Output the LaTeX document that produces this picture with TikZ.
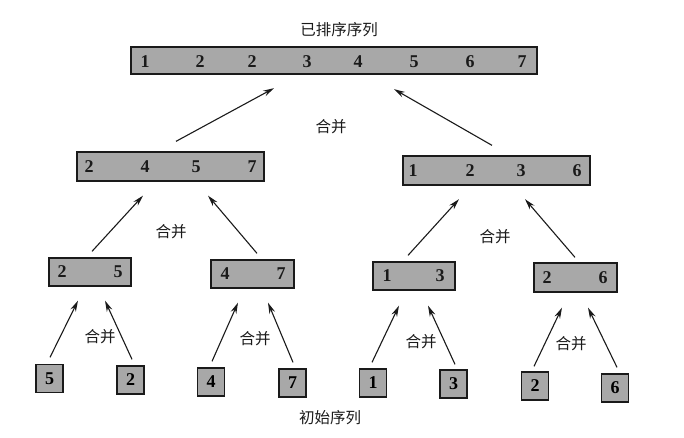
\documentclass[tikz,border=0pt]{standalone}
\usepackage{fontspec}
\setmainfont{Liberation Serif}
\newfontfamily\cjk{Noto Sans CJK SC}
\usetikzlibrary{calc,arrows.meta}
\definecolor{boxgray}{HTML}{A8A8A8}
\definecolor{ink}{HTML}{1A1A1A}
\tikzset{
  seqbox/.style={draw=ink,line width=1.3pt,fill=boxgray,inner sep=0pt},
  leafbox/.style={seqbox,minimum width=27pt,minimum height=28pt,font=\fontsize{18}{18}\selectfont\bfseries},
  digit/.style={font=\fontsize{18}{18}\selectfont\bfseries,text=ink,inner sep=0pt},
  label/.style={font=\cjk\fontsize{15.5}{15.5}\selectfont,text=ink,inner sep=0pt},
  merge/.style={draw=ink,line width=1.1pt,-{Stealth[length=11pt,width=6pt]}}
}
\begin{document}
\begin{tikzpicture}[x=1pt,y=-1pt]
\useasboundingbox (0,0) rectangle (684,437);
% top
\node[label] (title) at (339,30) {已排序序列};
\node[seqbox,minimum width=406pt,minimum height=27pt] (top) at (334,60.5) {};
\foreach \x/\d [count=\i] in {145/1,200/2,252/2,307/3,358/4,414/5,470/6,522/7}
  \node[digit] (t\i) at (\x,62) {\d};
% level 2
\node[seqbox,minimum width=187pt,minimum height=29pt] (L) at (170.5,166.5) {};
\foreach \x/\d [count=\i] in {89/2,145/4,196/5,252/7}
  \node[digit] (a\i) at (\x,167) {\d};
\node[seqbox,minimum width=187pt,minimum height=29pt] (R) at (496.5,170.5) {};
\foreach \x/\d [count=\i] in {413/1,470/2,521/3,577/6}
  \node[digit] (b\i) at (\x,171) {\d};
% level 3
\node[seqbox,minimum width=82pt,minimum height=28pt] (m1) at (90,272) {};
\node[digit] (m1a) at (62,272) {2};
\node[digit] (m1b) at (118,272) {5};
\node[seqbox,minimum width=83pt,minimum height=28pt] (m2) at (252.5,274) {};
\node[digit] (m2a) at (225,274) {4};
\node[digit] (m2b) at (281,274) {7};
\node[seqbox,minimum width=82pt,minimum height=28pt] (m3) at (414,276) {};
\node[digit] (m3a) at (387,276) {1};
\node[digit] (m3b) at (440,276) {3};
\node[seqbox,minimum width=83pt,minimum height=29pt] (m4) at (575.5,277.5) {};
\node[digit] (m4a) at (547,277.5) {2};
\node[digit] (m4b) at (603,277.5) {6};
% leaves
\node[leafbox] (l1) at (49.5,378.5) {5};
\node[leafbox] (l2) at (130.5,380) {2};
\node[leafbox] (l3) at (211,382) {4};
\node[leafbox] (l4) at (292.5,383) {7};
\node[leafbox] (l5) at (373,383) {1};
\node[leafbox] (l6) at (453.5,384) {3};
\node[leafbox] (l7) at (535,386) {2};
\node[leafbox] (l8) at (615,388) {6};
% labels
\node[label] (g0) at (331,127) {合并};
\node[label] (g1) at (171,232) {合并};
\node[label] (g2) at (495,237) {合并};
\node[label] (g3) at (100,337) {合并};
\node[label] (g4) at (255,339) {合并};
\node[label] (g5) at (421,342) {合并};
\node[label] (g6) at (571,344) {合并};
\node[label] (init) at (330,418) {初始序列};
% arrows leaves -> level 3
\draw[merge] ($(l1.north)+(0.5,-6.5)$) -- ($(m1.south)+(-12,14)$);
\draw[merge] ($(l2.north)+(1.5,-6)$) -- ($(m1.south)+(15,14)$);
\draw[merge] ($(l3.north)+(1,-6)$) -- ($(m2.south)+(-14.5,14)$);
\draw[merge] ($(l4.north)+(0.5,-6)$) -- ($(m2.south)+(15.5,14)$);
\draw[merge] ($(l5.north)+(-1,-6)$) -- ($(m3.south)+(-15,15)$);
\draw[merge] ($(l6.north)+(1.5,-5)$) -- ($(m3.south)+(14,15)$);
\draw[merge] ($(l7.north)+(-1,-5)$) -- ($(m4.south)+(-13.5,15)$);
\draw[merge] ($(l8.north)+(2,-6)$) -- ($(m4.south)+(12.5,15)$);
% level 3 -> level 2
\draw[merge] ($(m1.north)+(2,-6)$) -- ($(L.south)+(-27.5,14)$);
\draw[merge] ($(m2.north)+(4.5,-6)$) -- ($(L.south)+(37.5,14)$);
\draw[merge] ($(m3.north)+(-6,-6)$) -- ($(R.south)+(-37.5,13.5)$);
\draw[merge] ($(m4.north)+(-0.5,-5)$) -- ($(R.south)+(28.5,13.5)$);
% level 2 -> top
\draw[merge] ($(L.north)+(5.5,-10)$) -- ($(top.south)+(-60,13.5)$);
\draw[merge] ($(R.north)+(-4.5,-10)$) -- ($(top.south)+(60,14.5)$);
\end{tikzpicture}
\end{document}
